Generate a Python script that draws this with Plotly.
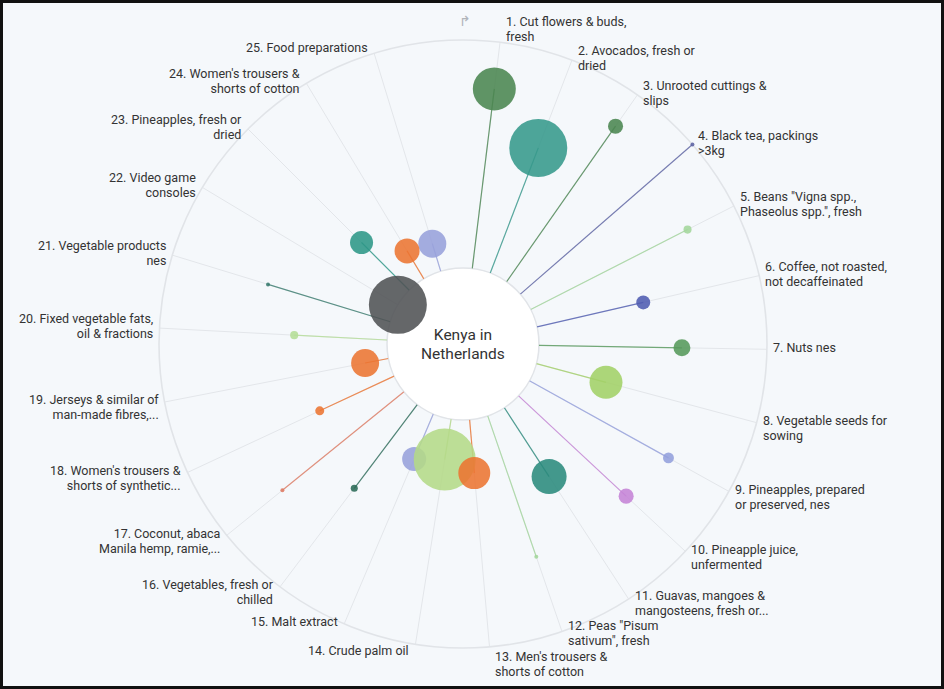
import math
import plotly.graph_objects as go

# ---------------- data ----------------
products = [
    "1. Cut flowers & buds,<br>fresh",
    "2. Avocados, fresh or<br>dried",
    "3. Unrooted cuttings &<br>slips",
    "4. Black tea, packings<br>>3kg",
    "5. Beans \"Vigna spp.,<br>Phaseolus spp.\", fresh",
    "6. Coffee, not roasted,<br>not decaffeinated",
    "7. Nuts nes",
    "8. Vegetable seeds for<br>sowing",
    "9. Pineapples, prepared<br>or preserved, nes",
    "10. Pineapple juice,<br>unfermented",
    "11. Guavas, mangoes &<br>mangosteens, fresh or...",
    "12. Peas \"Pisum<br>sativum\", fresh",
    "13. Men's trousers &<br>shorts of cotton",
    "14. Crude palm oil",
    "15. Malt extract",
    "16. Vegetables, fresh or<br>chilled",
    "17. Coconut, abaca<br>Manila hemp, ramie,...",
    "18. Women's trousers &<br>shorts of synthetic...",
    "19. Jerseys & similar of<br>man-made fibres,...",
    "20. Fixed vegetable fats,<br>oil & fractions",
    "21. Vegetable products<br>nes",
    "22. Video game<br>consoles",
    "23. Pineapples, fresh or<br>dried",
    "24. Women's trousers &<br>shorts of cotton",
    "25. Food preparations",
]
radial_score = [79.4, 58.8, 83.3, 100.0, 77.2, 47.8, 62.7, 31.6, 69.7, 64.5,
                36.0, 65.4, 23.5, 18.0, 21.5, 45.9, 68.6, 36.0, 10.4, 40.8,
                56.1, 0.0, 29.6, 14.3, 12.7]
export_value = [48.1, 87.5, 5.9, 0.23, 1.7, 5.1, 7.5, 28.3, 3.1, 5.9,
                31.9, 0.23, 26.6, 100.0, 15.0, 1.3, 0.1, 2.1, 20.4, 1.7,
                0.23, 87.5, 13.8, 16.3, 20.4]
center_title = ["Kenya in", "Netherlands"]

# ---------------- styles ----------------
colors = ["#4a8550", "#35998b", "#4a8550", "#5d63a3", "#a3d69b", "#4f5bb0",
          "#55995a", "#a2d066", "#939fdc", "#c583d6", "#2a8a7c", "#a3d69b",
          "#ec7431", "#b4da88", "#97a1db", "#2a6a57", "#de7a62", "#ec7431",
          "#ec7431", "#b4dd96", "#387a6d", "#505254", "#2c9686", "#ec7431",
          "#97a1db"]

W, H = 944, 689
CX, CY, R_OUT = 463, 344, 304   # centre (px from top-left) and outer radius
HOLE = 0.25
START_ANGLE, STEP = 7.0, 14.0
BG = "#f5f8fb"
FONT = "Roboto"
LABEL_PX = 12.5
LINE_H = 14.8
# small vertical nudges (px, down positive) keeping crowded bottom labels apart
LABEL_NUDGE = {10: -1.5, 11: 5.0, 12: 3.8}

n = len(products)
angles = [START_ANGLE + STEP * i for i in range(n)]


def rgba(hex_color, a):
    h = hex_color.lstrip("#")
    r, g, b = int(h[0:2], 16), int(h[2:4], 16), int(h[4:6], 16)
    return f"rgba({r},{g},{b},{a})"


fig = go.Figure()

# spokes from the inner circle to each bubble
for i in range(n):
    fig.add_trace(go.Scatterpolar(
        r=[0, radial_score[i]],
        theta=[angles[i], angles[i]],
        mode="lines",
        line=dict(color=rgba(colors[i], 0.8), width=1.2),
        cliponaxis=False,
        hoverinfo="skip",
        showlegend=False,
    ))

# bubbles (last category first so earlier ones sit on top)
order = list(range(n))[::-1]
fig.add_trace(go.Scatterpolar(
    r=[radial_score[i] for i in order],
    theta=[angles[i] for i in order],
    mode="markers",
    marker=dict(
        size=[export_value[i] for i in order],
        sizemode="area",
        sizeref=2.0 * max(export_value) / (62 ** 2),
        sizemin=2,
        color=[rgba(colors[i], 0.88) for i in order],
        opacity=1,
        line=dict(width=0),
    ),
    cliponaxis=False,
    hoverinfo="skip",
    showlegend=False,
))

# ---------------- labels ----------------
annotations = []
for i, label in enumerate(products):
    th = math.radians(angles[i])
    s, c = math.sin(th), math.cos(th)
    ex = CX + R_OUT * s
    ey = CY - R_OUT * c
    lines = label.split("<br>")
    k = len(lines)
    if c > 0.95:
        block_c = ey - k * LINE_H / 2 + 2
    elif c < -0.95:
        block_c = ey + k * LINE_H / 2 - 1
    elif c >= -0.93:
        block_c = ey - 2 + (0 if c >= 0 else (k - 1) * LINE_H / 2)
    else:
        block_c = ey - 3
    block_c += LABEL_NUDGE.get(i, 0)
    right = s >= 0
    text = "<br>".join(
        f"<span style='font-size:{LABEL_PX}px'>{ln}</span>" for ln in lines)
    annotations.append(dict(
        x=ex / W, y=(H - block_c) / H, xref="paper", yref="paper",
        text=text, showarrow=False,
        xanchor="left" if right else "right", yanchor="middle",
        xshift=5 if right else -5,
        align="left" if right else "right",
        borderpad=0,
        font=dict(family=FONT, size=LINE_H / 1.3, color="#333333"),
    ))

annotations.append(dict(
    x=CX / W, y=(H - CY) / H, xref="paper", yref="paper",
    text="<br>".join(f"<span style='font-size:15.5px'>{ln}</span>"
                     for ln in center_title),
    showarrow=False, xanchor="center", yanchor="middle", borderpad=0,
    font=dict(family=FONT, size=18.5 / 1.3, color="#333333"),
))
annotations.append(dict(
    x=465 / W, y=(H - 21) / H, xref="paper", yref="paper",
    text="↱", showarrow=False, xanchor="center", yanchor="middle",
    font=dict(family="DejaVu Sans", size=14, color="#b0b4ba"),
))

hole_r = R_OUT * HOLE
shapes = [
    dict(type="circle", xref="paper", yref="paper", layer="below",
         x0=(CX - hole_r - 2) / W, x1=(CX + hole_r + 2) / W,
         y0=(H - CY - hole_r - 2) / H, y1=(H - CY + hole_r + 2) / H,
         fillcolor="#eceff3", line=dict(width=0)),
    dict(type="circle", xref="paper", yref="paper", layer="below",
         x0=(CX - hole_r) / W, x1=(CX + hole_r) / W,
         y0=(H - CY - hole_r) / H, y1=(H - CY + hole_r) / H,
         fillcolor="#ffffff", line=dict(width=0)),
    dict(type="rect", xref="paper", yref="paper", layer="above",
         x0=0, x1=1, y0=0, y1=1, fillcolor="rgba(0,0,0,0)",
         line=dict(color="#111111", width=6)),
]

fig.update_layout(
    width=W, height=H, autosize=False,
    margin=dict(l=0, r=0, t=0, b=0),
    paper_bgcolor=BG,
    plot_bgcolor=BG,
    font=dict(family=FONT, color="#333333"),
    showlegend=False,
    annotations=annotations,
    shapes=shapes,
    polar=dict(
        domain=dict(x=[(CX - R_OUT) / W, (CX + R_OUT) / W],
                    y=[(H - CY - R_OUT) / H, (H - CY + R_OUT) / H]),
        bgcolor=BG,
        hole=HOLE,
        radialaxis=dict(range=[0, 100], showgrid=False, showticklabels=False,
                        showline=False, ticks=""),
        angularaxis=dict(rotation=90, direction="clockwise",
                         thetaunit="degrees", tickmode="array",
                         tickvals=angles, showticklabels=False, ticks="",
                         showgrid=True, gridcolor="#e3e6ea", gridwidth=1,
                         showline=True, linecolor="#e1e4e8", linewidth=1.6,
                         layer="below traces"),
    ),
)

fig.write_html(
    "out.html",
    config={"displayModeBar": False},
    post_script="document.body.style.margin='0';"
                "document.body.style.overflow='hidden';",
)
